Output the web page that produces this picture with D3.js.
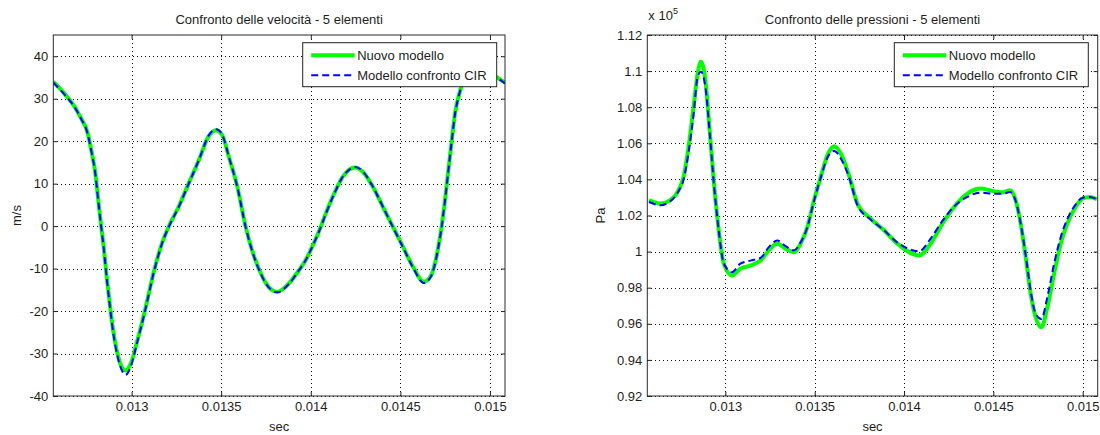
<!DOCTYPE html>
<html>
<head>
<meta charset="utf-8">
<script src="https://cdn.jsdelivr.net/npm/d3@7"></script>
<style>
  html, body { margin: 0; padding: 0; background: #ffffff; }
  svg { display: block; }
  text { font-family: "Liberation Sans", Arial, Helvetica, sans-serif; fill: #1e1e1e; }
</style>
</head>
<body>
<svg id="chart" width="1100" height="435"></svg>
<script>
// ---------------- DATA ----------------
const seriesNames = ["Nuovo modello", "Modello confronto CIR"];
const titles = ["Confronto delle velocità - 5 elementi", "Confronto delle pressioni - 5 elementi"];
const xLabel = "sec";
const yLabels = ["m/s", "Pa"];

const timeTicks = [0.013, 0.0135, 0.014, 0.0145, 0.015];
const timeTickLabels = ["0.013", "0.0135", "0.014", "0.0145", "0.015"];
const timeDomain = [0.012563, 0.015084];

const velTicks = [-40, -30, -20, -10, 0, 10, 20, 30, 40];
const velTickLabels = ["-40", "-30", "-20", "-10", "0", "10", "20", "30", "40"];
const velDomain = [-40, 45];

const presTicks = [92000, 94000, 96000, 98000, 100000, 102000, 104000, 106000, 108000, 110000, 112000];
const presTickLabels = ["0.92", "0.94", "0.96", "0.98", "1", "1.02", "1.04", "1.06", "1.08", "1.1", "1.12"];
const presDomain = [92000, 112000];

// velocity (m/s)
const velTime = [0.012563, 0.012625, 0.012682, 0.012719, 0.012753, 0.012775, 0.012798, 0.012816, 0.012831,
  0.012846, 0.012861, 0.012878, 0.012897, 0.012921, 0.012944, 0.012966, 0.012996, 0.013028, 0.013075,
  0.013122, 0.013169, 0.013206, 0.013262, 0.013318, 0.013375, 0.01343, 0.013472, 0.013506, 0.013543,
  0.01359, 0.013637, 0.013684, 0.013721, 0.01375, 0.013813, 0.013878, 0.013934, 0.013972, 0.014,
  0.014047, 0.014084, 0.014131, 0.014178, 0.014215, 0.014247, 0.01429, 0.014346, 0.014403, 0.014459,
  0.014515, 0.014571, 0.014631, 0.014669, 0.014693, 0.014712, 0.01473, 0.014749, 0.014768, 0.014787,
  0.014805, 0.014824, 0.01485, 0.01488, 0.01492, 0.01496, 0.015, 0.01504, 0.015084];
const velNew = [34.0, 31.2, 28.1, 25.3, 22.2, 17.9, 12.4, 5.3, -0.2,
  -5.6, -11.9, -18.2, -24.5, -30.0, -33.1, -34.0, -32.3, -27.6, -19.8,
  -11.1, -4.1, -0.2, 4.5, 10.0, 15.5, 21.2, 22.6, 21.4, 16.3,
  9.3, -0.2, -7.2, -11.1, -13.5, -15.5, -13.5, -10.4, -8.0, -5.6,
  -1.1, 3.0, 7.7, 11.6, 13.3, 13.8, 12.8, 9.3, 4.5, -0.2,
  -4.9, -9.6, -13.1, -11.8, -8.8, -4.9, -0.2, 6.1, 13.2, 20.2,
  26.5, 30.4, 34.0, 36.8, 38.0, 37.5, 36.3, 35.0, 33.8];
const velCIR = [33.8, 31.0, 28.0, 25.2, 22.0, 17.7, 12.2, 5.1, -0.4,
  -5.8, -12.2, -18.6, -25.0, -30.6, -33.8, -35.0, -33.0, -27.9, -20.0,
  -11.2, -4.2, -0.3, 4.4, 9.9, 15.5, 21.3, 22.8, 21.5, 16.3,
  9.2, -0.3, -7.3, -11.2, -13.6, -15.6, -13.6, -10.4, -8.0, -5.6,
  -1.2, 2.9, 7.6, 11.6, 13.3, 13.9, 12.9, 9.3, 4.5, -0.3,
  -5.0, -9.8, -13.4, -12.0, -8.9, -5.0, -0.3, 6.0, 13.1, 20.1,
  26.4, 30.3, 34.0, 36.8, 38.0, 37.5, 36.3, 35.0, 33.6];

// pressure (Pa)
const presTime = [0.012573, 0.012635, 0.01269, 0.012738, 0.012766, 0.012794, 0.012822, 0.012845, 0.012863,
  0.012888, 0.012912, 0.012938, 0.012963, 0.012991, 0.013037, 0.013084, 0.01314, 0.013197, 0.013243,
  0.01329, 0.013337, 0.013384, 0.013421, 0.013459, 0.013496, 0.013534, 0.013571, 0.013609, 0.013646,
  0.013693, 0.013739, 0.013813, 0.013888, 0.013963, 0.014084, 0.014149, 0.014215, 0.01428, 0.014354,
  0.014429, 0.014504, 0.01455, 0.014593, 0.014625, 0.014653, 0.014681, 0.014709, 0.014737, 0.014769,
  0.014802, 0.01484, 0.014877, 0.014914, 0.01496, 0.015, 0.01504, 0.01508];
const presNew = [102850, 102660, 102840, 103400, 104140, 105800, 108020, 109870, 110520,
  109500, 106730, 103580, 101180, 99330, 98680, 99050, 99230, 99510, 100070,
  100440, 100160, 99970, 100440, 101360, 102840, 104140, 105340, 105840, 105430,
  104200, 102660, 101830, 101180, 100440, 99790, 100440, 101550, 102470, 103210,
  103490, 103340, 103270, 103400, 102840, 101550, 99700, 97660, 96360, 95810,
  96920, 98770, 100440, 101550, 102470, 102950, 103030, 102900];
const presCIR = [102750, 102570, 102780, 103350, 104000, 105500, 107600, 109690, 109960,
  109130, 106600, 103500, 101150, 99350, 98860, 99330, 99500, 99650, 100250,
  100620, 100300, 100070, 100500, 101360, 102800, 104100, 105200, 105580, 105160,
  104100, 102580, 101780, 101180, 100500, 100020, 100720, 101700, 102500, 103030,
  103270, 103200, 103200, 103300, 102800, 101550, 99800, 97800, 96550, 96270,
  97470, 99330, 100800, 101800, 102600, 102980, 103030, 102900];

// ---------------- DRAWING ----------------
const svg = d3.select("#chart");
const FONT = 13;
const greenColor = "#00ff00";
const blueColor = "#0000ff";

const panels = [
  { x0: 53.3, x1: 505, y0: 35, y1: 396, time: velTime, a: velNew, b: velCIR,
    yTicks: velTicks, yTickLabels: velTickLabels, yDomain: velDomain,
    title: titles[0], yLabel: yLabels[0], yLabelX: 16, legendX: 302.7, exponent: false },
  { x0: 647.3, x1: 1097.7, y0: 35, y1: 396, time: presTime, a: presNew, b: presCIR,
    yTicks: presTicks, yTickLabels: presTickLabels, yDomain: presDomain,
    title: titles[1], yLabel: yLabels[1], yLabelX: 600, legendX: 894.3, exponent: true }
];

panels.forEach((p, pi) => {
  const x = d3.scaleLinear().domain(timeDomain).range([p.x0, p.x1]);
  const y = d3.scaleLinear().domain(p.yDomain).range([p.y1, p.y0]);
  const g = svg.append("g");

  const clipId = "clip" + pi;
  svg.append("defs").append("clipPath").attr("id", clipId)
    .append("rect").attr("x", p.x0).attr("y", p.y0)
    .attr("width", p.x1 - p.x0).attr("height", p.y1 - p.y0);

  // grid
  const grid = g.append("g").attr("stroke", "#111").attr("stroke-width", 1)
    .attr("stroke-dasharray", "1,3").attr("shape-rendering", "crispEdges");
  timeTicks.forEach(t => {
    grid.append("line").attr("x1", Math.round(x(t)) + 0.5).attr("x2", Math.round(x(t)) + 0.5)
      .attr("y1", p.y0).attr("y2", p.y1);
  });
  p.yTicks.forEach(v => {
    grid.append("line").attr("y1", Math.round(y(v)) + 0.5).attr("y2", Math.round(y(v)) + 0.5)
      .attr("x1", p.x0).attr("x2", p.x1);
  });

  // lines
  const lineA = d3.line().x((d, i) => x(p.time[i])).y(d => y(d)).curve(d3.curveMonotoneX);
  const plot = g.append("g").attr("clip-path", `url(#${clipId})`);
  plot.append("path").datum(p.a).attr("d", lineA).attr("fill", "none")
    .attr("stroke", greenColor).attr("stroke-width", 4).attr("stroke-linejoin", "round");
  plot.append("path").datum(p.b).attr("d", lineA).attr("fill", "none")
    .attr("stroke", blueColor).attr("stroke-width", 2).attr("stroke-dasharray", "7,4");

  // axes
  const ax = g.append("g");
  const bottom = d3.axisBottom(x).tickValues(timeTicks).tickFormat((d, i) => timeTickLabels[i])
    .tickSize(-4).tickPadding(6);
  const top = d3.axisTop(x).tickValues(timeTicks).tickFormat("").tickSize(-4);
  const left = d3.axisLeft(y).tickValues(p.yTicks).tickFormat((d, i) => p.yTickLabels[i])
    .tickSize(-4).tickPadding(5);
  const right = d3.axisRight(y).tickValues(p.yTicks).tickFormat("").tickSize(-4);
  [[bottom, `translate(0,${p.y1})`], [top, `translate(0,${p.y0})`],
   [left, `translate(${p.x0},0)`], [right, `translate(${p.x1},0)`]].forEach(([a, tr]) => {
    const gg = ax.append("g").attr("transform", tr).call(a);
    gg.select(".domain").remove();
    gg.selectAll(".tick line").attr("stroke", "#222");
    gg.selectAll("text").attr("font-size", FONT).attr("font-family", null).style("fill", "#1e1e1e");
  });
  ax.append("rect").attr("x", p.x0).attr("y", p.y0).attr("width", p.x1 - p.x0).attr("height", p.y1 - p.y0)
    .attr("fill", "none").attr("stroke", "#2a2a2a").attr("stroke-width", 1);

  // title & labels
  g.append("text").attr("x", (p.x0 + p.x1) / 2).attr("y", 24).attr("text-anchor", "middle")
    .attr("font-size", FONT).text(p.title);
  g.append("text").attr("x", (p.x0 + p.x1) / 2).attr("y", 431).attr("text-anchor", "middle")
    .attr("font-size", FONT).text(xLabel);
  g.append("text").attr("transform", `translate(${p.yLabelX},${(p.y0 + p.y1) / 2}) rotate(-90)`)
    .attr("text-anchor", "middle").attr("dy", "0.35em").attr("font-size", FONT).text(p.yLabel);
  if (p.exponent) {
    const e = g.append("text").attr("x", p.x0 + 1).attr("y", 20).attr("font-size", FONT);
    e.append("tspan").text("x 10");
    e.append("tspan").attr("dy", -6).attr("font-size", 9).text("5");
  }

  // legend
  const lw = 194, lh = 44, lx = p.legendX, ly = 42.7;
  const lg = g.append("g");
  lg.append("rect").attr("x", lx).attr("y", ly).attr("width", lw).attr("height", lh)
    .attr("fill", "#fff").attr("stroke", "#222").attr("stroke-width", 1);
  const rows = [ly + 12.5, ly + 32.5];
  lg.append("line").attr("x1", lx + 8.5).attr("x2", lx + 52).attr("y1", rows[0]).attr("y2", rows[0])
    .attr("stroke", greenColor).attr("stroke-width", 4);
  lg.append("line").attr("x1", lx + 8.5).attr("x2", lx + 52).attr("y1", rows[1]).attr("y2", rows[1])
    .attr("stroke", blueColor).attr("stroke-width", 2).attr("stroke-dasharray", "7,4");
  seriesNames.forEach((n, i) => {
    lg.append("text").attr("x", lx + 54.5).attr("y", rows[i]).attr("dy", "0.35em")
      .attr("font-size", FONT).text(n);
  });
});
</script>
</body>
</html>
